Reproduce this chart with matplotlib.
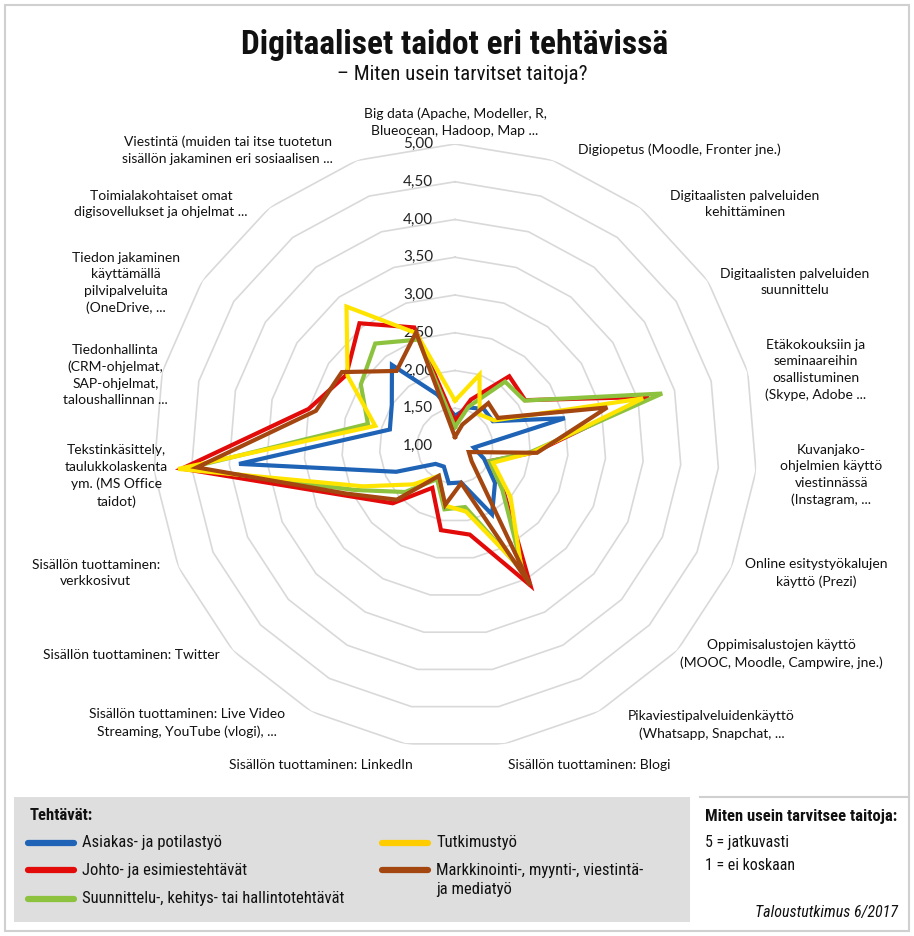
import numpy as np
import matplotlib
matplotlib.use("Agg")
import matplotlib.pyplot as plt
import matplotlib.font_manager as fm
from matplotlib.patches import Rectangle
from matplotlib.lines import Line2D

# ---------------- data ----------------
categories = [
    "Big data (Apache, Modeller, R,\nBlueocean, Hadoop, Map ...",
    "Digiopetus (Moodle, Fronter jne.)",
    "Digitaalisten palveluiden\nkehittäminen",
    "Digitaalisten palveluiden\nsuunnittelu",
    "Etäkokouksiin ja\nseminaareihin\nosallistuminen\n(Skype, Adobe ...",
    "Kuvanjako-\nohjelmien käyttö\nviestinnässä\n(Instagram, ...",
    "Online esitystyökalujen\nkäyttö (Prezi)",
    "Oppimisalustojen käyttö\n(MOOC, Moodle, Campwire, jne.)",
    "Pikaviestipalveluidenkäyttö\n(Whatsapp, Snapchat, ...",
    "Sisällön tuottaminen: Blogi",
    "Sisällön tuottaminen: LinkedIn",
    "Sisällön tuottaminen: Live Video\nStreaming, YouTube (vlogi), ...",
    "Sisällön tuottaminen: Twitter",
    "Sisällön tuottaminen:\nverkkosivut",
    "Tekstinkäsittely,\ntaulukkolaskenta\nym. (MS Office\ntaidot)",
    "Tiedonhallinta\n(CRM-ohjelmat,\nSAP-ohjelmat,\ntaloushallinnan ...",
    "Tiedon jakaminen\nkäyttämällä\npilvipalveluita\n(OneDrive, ...",
    "Toimialakohtaiset omat\ndigisovellukset ja ohjelmat ...",
    "Viestintä (muiden tai itse tuotetun\nsisällön jakaminen eri sosiaalisen ...",
]

series_names = [
    "Asiakas- ja potilastyö",
    "Johto- ja esimiestehtävät",
    "Suunnittelu-, kehitys- tai hallintotehtävät",
    "Tutkimustyö",
    "Markkinointi-, myynti-, viestintä-\nja mediatyö",
]

asiakas = [1.40, 1.54, 1.62, 1.60, 2.50, 1.25, 1.42, 1.72, 2.03, 1.49,
           1.50, 1.31, 1.35, 1.85, 3.87, 1.89, 2.00, 2.36, 1.72]
johto = [1.33, 1.65, 2.17, 2.11, 3.65, 2.05, 1.50, 1.87, 3.10, 2.19,
         2.13, 1.63, 2.12, 2.62, 4.63, 3.00, 2.72, 3.06, 2.66]
suunnittelu = [1.25, 1.55, 2.08, 2.10, 3.83, 2.00, 1.50, 1.85, 2.90, 1.82,
               1.85, 1.50, 1.90, 2.45, 4.55, 2.19, 2.49, 2.72, 2.49]
tutkimus = [1.60, 2.00, 1.53, 1.62, 3.57, 2.03, 1.55, 2.00, 2.85, 1.88,
            1.80, 1.45, 1.75, 2.33, 4.68, 2.09, 2.70, 3.34, 2.58]
markkinointi = [1.12, 1.30, 1.72, 1.68, 3.08, 2.09, 1.20, 1.30, 3.10, 1.50,
                1.79, 1.45, 2.05, 2.57, 4.43, 2.90, 2.79, 2.26, 2.59]

tick_values = [1.00, 1.50, 2.00, 2.50, 3.00, 3.50, 4.00, 4.50, 5.00]
tick_labels = ["1,00", "1,50", "2,00", "2,50", "3,00", "3,50", "4,00", "4,50", "5,00"]

# ---------------- style ----------------
colors = ["#1E63B5", "#E30A0A", "#8DC23F", "#FFE400", "#A3460F"]
legend_colors = ["#1E63B5", "#E30A0A", "#8DC23F", "#FFCC00", "#A3460F"]

avail = {f.name for f in fm.fontManager.ttflist}
def pick(cands, default):
    for c in cands:
        if c in avail:
            return c
    return default

NARROW = pick(["Liberation Sans Narrow", "Roboto Condensed", "Open Sans Condensed"], "Roboto")
LABEL = pick(["Lato", "Open Sans", "Roboto"], "DejaVu Sans")

W, H = 914, 936
fig = plt.figure(figsize=(W / 100, H / 100), dpi=100)
fig.patch.set_facecolor("white")

def fx(x):
    return x / W

def fy(y):
    return 1 - y / H

# outer frame
fig.add_artist(Rectangle((fx(5), fy(931)), fx(904), (926) / H, transform=fig.transFigure,
                         fill=False, edgecolor="#D0D0D0", lw=1.5))

# ---------------- radar axes ----------------
cx, cy, R = 455, 446, 302
ax = fig.add_axes([fx(cx - R), fy(cy + R), 2 * R / W, 2 * R / H], projection="polar")
ax.set_theta_zero_location("N")
ax.set_theta_direction(-1)
ax.set_ylim(1, 5)
ax.grid(False)
ax.set_xticks([])
ax.set_yticks([])
ax.spines["polar"].set_visible(False)
ax.patch.set_alpha(0)

n = len(categories)
theta = np.arange(n) * 2 * np.pi / n
theta_c = np.append(theta, theta[0])

for v in tick_values[1:]:
    ax.plot(theta_c, [v] * (n + 1), color="#D9D9D9", lw=1.2, zorder=1)

for lab, v in zip(tick_labels, tick_values):
    ax.annotate(lab, xy=(0, v), xytext=(-22, 0), textcoords="offset pixels",
                ha="right", va="center", fontsize=11, family=LABEL, color="#222222",
                zorder=2, annotation_clip=False)

for vals, c in zip([asiakas, johto, suunnittelu, tutkimus, markkinointi], colors):
    ax.plot(theta_c, vals + vals[:1], color=c, lw=3.0, solid_joinstyle="miter", zorder=3)

# category labels (anchor in pixels, alignment)
label_layout = [
    (455, 137, "center", "bottom"),
    (578, 150, "left", "center"),
    (670, 204, "left", "center"),
    (720, 282, "left", "center"),
    (765, 370, "left", "center"),
    (780, 475, "left", "center"),
    (745, 573, "left", "center"),
    (680, 654, "left", "center"),
    (628, 725, "left", "center"),
    (508, 765, "left", "center"),
    (413, 765, "right", "center"),
    (285, 723, "right", "center"),
    (220, 655, "right", "center"),
    (160, 573, "right", "center"),
    (168, 476, "right", "center"),
    (168, 375, "right", "center"),
    (180, 283, "right", "center"),
    (248, 204, "right", "center"),
    (333, 150, "right", "center"),
]
for txt, (x, y, ha, va) in zip(categories, label_layout):
    fig.text(fx(x), fy(y), txt, ha=ha, va=va, multialignment="center",
             fontsize=10, family=LABEL, color="#111111", linespacing=1.45)

# ---------------- titles ----------------
fig.text(fx(455), fy(45), "Digitaaliset taidot eri tehtävissä", ha="center", va="center",
         fontsize=24, fontweight="bold", family=NARROW, color="#111111")
fig.text(fx(462), fy(74), "– Miten usein tarvitset taitoja?", ha="center", va="center",
         fontsize=15, family=NARROW, color="#111111")

# ---------------- legend box ----------------
fig.add_artist(Rectangle((fx(14), fy(922)), (690 - 14) / W, (922 - 797) / H,
                         transform=fig.transFigure, facecolor="#DEDEDE", edgecolor="none"))
fig.text(fx(30), fy(816), "Tehtävät:", ha="left", va="center", fontsize=12,
         fontweight="bold", family=NARROW, color="#111111")
leg_pos = [(28, 843), (28, 870), (28, 899), (382, 843), (382, 870)]
for name, c, (x, y) in zip(series_names, legend_colors, leg_pos):
    fig.add_artist(Line2D([fx(x), fx(x + 46)], [fy(y), fy(y)], transform=fig.transFigure,
                          color=c, lw=4.5, solid_capstyle="round"))
    ty = y + (10 if "\n" in name else 0)
    fig.text(fx(x + 54), fy(ty), name, ha="left", va="center", fontsize=12,
             family=NARROW, color="#111111", linespacing=1.35)

# right info box
fig.add_artist(Line2D([fx(700), fx(909)], [fy(797), fy(797)], transform=fig.transFigure,
                      color="#D0D0D0", lw=1.5))
fig.text(fx(705), fy(817), "Miten usein tarvitsee taitoja:", ha="left", va="center",
         fontsize=12, fontweight="bold", family=NARROW, color="#111111")
fig.text(fx(705), fy(842), "5 = jatkuvasti", ha="left", va="center", fontsize=11.5,
         family=NARROW, color="#111111")
fig.text(fx(705), fy(866), "1 = ei koskaan", ha="left", va="center", fontsize=11.5,
         family=NARROW, color="#111111")
fig.text(fx(898), fy(912), "Taloustutkimus 6/2017", ha="right", va="center", fontsize=11.5,
         style="italic", family=NARROW, color="#111111")

fig.savefig("out.png", dpi=100, facecolor="white")
